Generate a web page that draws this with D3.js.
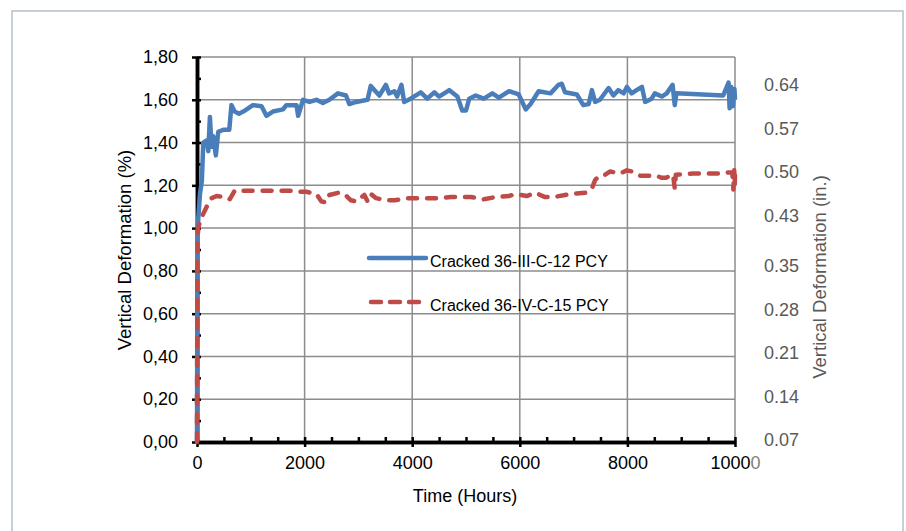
<!DOCTYPE html>
<html>
<head>
<meta charset="utf-8">
<script src="https://cdn.jsdelivr.net/npm/d3@7"></script>
<style>
  body { margin: 0; background: #fff; }
  text { font-family: Arial, "Liberation Sans", sans-serif; }
</style>
</head>
<body>
<div id="maincontent"></div>
<script>
// series: [hours, deformation %]
var crackedIII = [
  [0, 0], [6, 0.6], [10, 0.98], [25, 1.05], [55, 1.16], [90, 1.22], [117, 1.40], [180, 1.41], [210, 1.36],
  [240, 1.52], [270, 1.38], [300, 1.43], [350, 1.34], [395, 1.45], [490, 1.46], [600, 1.46],
  [640, 1.575], [700, 1.545], [780, 1.535], [860, 1.545], [1040, 1.575], [1200, 1.57], [1290, 1.525],
  [1410, 1.545], [1600, 1.555], [1660, 1.575], [1850, 1.575], [1880, 1.525], [1970, 1.60],
  [2090, 1.59], [2220, 1.60], [2340, 1.585], [2460, 1.60], [2620, 1.63], [2770, 1.62], [2830, 1.58],
  [2960, 1.59], [3170, 1.60], [3230, 1.665], [3300, 1.645], [3390, 1.62], [3510, 1.67], [3570, 1.63],
  [3670, 1.64], [3720, 1.615], [3800, 1.67], [3850, 1.59], [3970, 1.605], [4160, 1.635], [4280, 1.605],
  [4410, 1.635], [4500, 1.615], [4690, 1.645], [4840, 1.615], [4930, 1.55], [5000, 1.55], [5060, 1.605],
  [5180, 1.62], [5330, 1.605], [5490, 1.63], [5610, 1.61], [5800, 1.64], [5980, 1.625], [6110, 1.555],
  [6200, 1.58], [6350, 1.64], [6570, 1.63], [6720, 1.67], [6780, 1.675], [6840, 1.635], [7060, 1.625],
  [7180, 1.575], [7280, 1.58], [7340, 1.645], [7400, 1.59], [7490, 1.60], [7650, 1.655], [7740, 1.62],
  [7830, 1.645], [7930, 1.63], [7990, 1.66], [8080, 1.63], [8170, 1.645], [8270, 1.66], [8330, 1.59],
  [8450, 1.605], [8510, 1.63], [8640, 1.615], [8730, 1.63], [8840, 1.67], [8880, 1.575], [8910, 1.63],
  [9780, 1.62], [9880, 1.68], [9900, 1.56], [9930, 1.66], [9960, 1.57], [9990, 1.65], [10000, 1.60]
];

var crackedIV = [
  [0, 0], [5, 0.6], [10, 0.95], [25, 1.005], [85, 1.05], [180, 1.10], [270, 1.14], [365, 1.15],
  [550, 1.145], [610, 1.135], [700, 1.175], [1110, 1.175], [1720, 1.175], [1850, 1.17], [2030, 1.17],
  [2220, 1.16], [2310, 1.125], [2400, 1.12], [2460, 1.155], [2620, 1.165], [2740, 1.16], [2860, 1.13],
  [2960, 1.125], [3110, 1.155], [3170, 1.125], [3230, 1.16], [3330, 1.14], [3510, 1.13], [3670, 1.13],
  [3910, 1.14], [4220, 1.14], [4470, 1.14], [4720, 1.145], [4930, 1.145], [5090, 1.145], [5240, 1.14],
  [5330, 1.135], [5550, 1.145], [5800, 1.15], [5920, 1.16], [6130, 1.15], [6290, 1.165], [6470, 1.145],
  [6630, 1.145], [6840, 1.155], [6940, 1.16], [7220, 1.165], [7340, 1.185], [7400, 1.225], [7460, 1.24],
  [7560, 1.245], [7680, 1.265], [7860, 1.255], [7990, 1.27], [8080, 1.265], [8240, 1.245], [8390, 1.245],
  [8540, 1.245], [8640, 1.235], [8710, 1.235], [8850, 1.25], [8880, 1.185], [8900, 1.25], [9220, 1.255],
  [9720, 1.255], [9810, 1.26], [9950, 1.26], [9970, 1.18], [9985, 1.27], [9995, 1.20], [10000, 1.25]
];

var seriesNames = ["Cracked 36-III-C-12 PCY", "Cracked 36-IV-C-15 PCY"];
var xTicks = [0, 2000, 4000, 6000, 8000, 10000];
var yTicks = [0, 0.2, 0.4, 0.6, 0.8, 1.0, 1.2, 1.4, 1.6, 1.8];
var inchTicks = [0.07, 0.14, 0.21, 0.28, 0.35, 0.43, 0.50, 0.57, 0.64];

var width = 906, height = 531;
var margin = {top: 57, right: 171, bottom: 89, left: 197};

var svg = d3.select("#maincontent").append("svg")
    .attr("width", width)
    .attr("height", height);

// outer frame
svg.append("rect")
    .attr("x", 12).attr("y", 11)
    .attr("width", 891).attr("height", 530)
    .attr("fill", "none")
    .attr("stroke", "#b4c0cb")
    .attr("stroke-width", 1.5);

var x = d3.scaleLinear().domain([0, 10000]).range([margin.left, width - margin.right]);
var y = d3.scaleLinear().domain([0, 1.8]).range([height - margin.bottom, margin.top]);
var yIn = d3.scaleLinear().domain([0.07, 0.64]).range([440, 85]); // secondary labels (in.)

// grid
svg.append("g").selectAll("line")
    .data(yTicks.slice(1))
    .enter().append("line")
    .attr("x1", x(0)).attr("x2", x(10000))
    .attr("y1", function (d) { return y(d) }).attr("y2", function (d) { return y(d) })
    .attr("stroke", "#8c8c8c").attr("stroke-width", 1.5);

svg.append("g").selectAll("line")
    .data(xTicks.slice(1))
    .enter().append("line")
    .attr("x1", function (d) { return x(d) }).attr("x2", function (d) { return x(d) })
    .attr("y1", y(0)).attr("y2", y(1.8))
    .attr("stroke", "#8c8c8c").attr("stroke-width", 1.5);

// left axis: labels + major ticks out, minor ticks in
var fmt = function (d) { return d3.format(".2f")(d).replace(".", ",") };

var yAxis = svg.append("g")
    .attr("transform", "translate(" + x(0) + ",0)")
    .call(d3.axisLeft(y).tickValues(yTicks).tickFormat(fmt).tickSize(5).tickSizeOuter(0).tickPadding(14));

svg.append("g")
    .attr("transform", "translate(" + x(0) + ",0)")
    .call(d3.axisRight(y).tickValues(d3.range(0, 19).map(function (i) { return i / 10 }))
        .tickFormat("").tickSize(4).tickSizeOuter(0));

// bottom axis: major ticks both sides, minor ticks up
var xAxis = svg.append("g")
    .attr("transform", "translate(0," + y(0) + ")")
    .call(d3.axisBottom(x).tickValues(xTicks).tickFormat(d3.format("d")).tickSize(5).tickSizeOuter(0).tickPadding(9));

svg.append("g")
    .attr("transform", "translate(0," + y(0) + ")")
    .call(d3.axisTop(x).tickValues(d3.range(0, 10001, 500)).tickFormat("").tickSize(5).tickSizeOuter(0));

svg.selectAll(".domain").attr("stroke", "#000").attr("stroke-width", 3.5);
svg.selectAll(".tick line").attr("stroke", "#000").attr("stroke-width", 2.5);
svg.selectAll(".tick text").attr("font-size", 18).attr("font-family", "Arial, 'Liberation Sans', sans-serif").attr("fill", "#000");

// last x label: its final zero shows grey in the original
xAxis.selectAll(".tick text")
    .filter(function (d) { return d === 10000 })
    .text("1000")
    .append("tspan").attr("fill", "#7f7f7f").text("0");

// series, drawn over the axes (the rise at t=0 sits on the axis line)
var line = d3.line()
    .x(function (d) { return x(d[0]) })
    .y(function (d) { return y(d[1]) });

svg.append("path")
    .datum(crackedIII)
    .attr("d", line)
    .attr("fill", "none")
    .attr("stroke", "#4a7ebb")
    .attr("stroke-width", 4.5)
    .attr("stroke-linejoin", "round");

svg.append("path")
    .datum(crackedIV)
    .attr("d", line)
    .attr("fill", "none")
    .attr("stroke", "#be4b48")
    .attr("stroke-width", 4.5)
    .attr("stroke-linejoin", "round")
    .attr("stroke-linecap", "round")
    .attr("stroke-dasharray", "9,10");

// secondary labels on the right
svg.append("g").selectAll("text")
    .data(inchTicks)
    .enter().append("text")
    .attr("x", 764)
    .attr("y", function (d) { return yIn(d) })
    .attr("dy", "0.35em")
    .attr("font-size", 18)
    .attr("fill", "#595959")
    .text(function (d) { return d.toFixed(2) });

// axis titles
svg.append("text")
    .attr("transform", "translate(131," + 250 + ")rotate(-90)")
    .attr("text-anchor", "middle")
    .attr("font-size", 18.5)
    .text("Vertical Deformation (%)");

svg.append("text")
    .attr("transform", "translate(826," + 277 + ")rotate(-90)")
    .attr("text-anchor", "middle")
    .attr("font-size", 18.5)
    .attr("fill", "#595959")
    .text("Vertical Deformation (in.)");

svg.append("text")
    .attr("x", 465).attr("y", 502)
    .attr("text-anchor", "middle")
    .attr("font-size", 18)
    .text("Time (Hours)");

// legend
var legend = svg.append("g").attr("transform", "translate(369,258)");

legend.append("line")
    .attr("x1", 0).attr("x2", 57).attr("y1", 0).attr("y2", 0)
    .attr("stroke", "#4a7ebb").attr("stroke-width", 4.5).attr("stroke-linecap", "round");

legend.append("line")
    .attr("x1", 2).attr("x2", 51).attr("y1", 44).attr("y2", 44)
    .attr("stroke", "#be4b48").attr("stroke-width", 4.5).attr("stroke-linecap", "round")
    .attr("stroke-dasharray", "10,9");

legend.selectAll(".lbl")
    .data(seriesNames)
    .enter().append("text")
    .attr("class", "lbl")
    .attr("x", 61)
    .attr("y", function (d, i) { return i * 44 + 9 })
    .attr("font-family", "Lato, 'Open Sans', sans-serif")
    .attr("font-size", 16)
    .attr("fill", "#000")
    .text(function (d) { return d });
</script>
</body>
</html>
